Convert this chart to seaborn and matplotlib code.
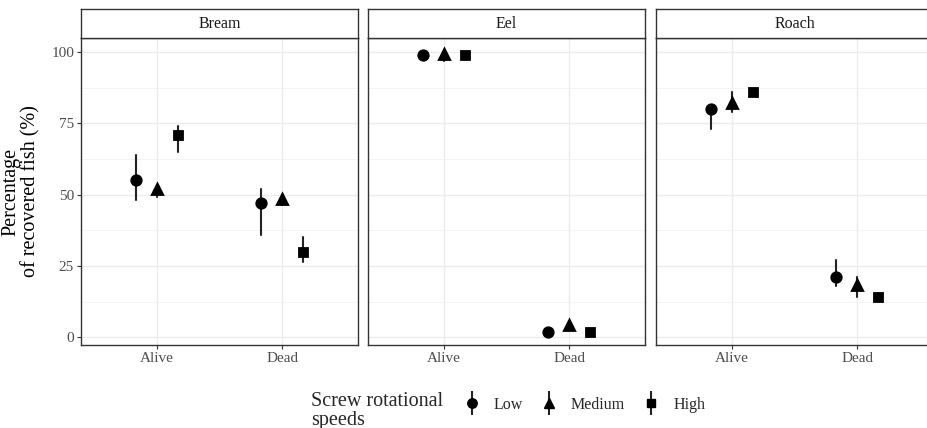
import matplotlib
matplotlib.use("Agg")
import matplotlib.pyplot as plt
import seaborn as sns
import pandas as pd
from matplotlib.lines import Line2D
from matplotlib.legend_handler import HandlerTuple

# data (value, lower, upper)
species = ["Bream", "Eel", "Roach"]
status = ["Alive", "Dead"]
speeds = ["Low", "Medium", "High"]

bream_value = [55, 52, 71, 47, 48.5, 30]
bream_lower = [48, 49, 65, 36, 46.5, 26.5]
bream_upper = [64, 53.5, 74, 52, 50, 35]

eel_value = [99, 99.3, 99, 2, 4.3, 2]
eel_lower = [99, 97, 99, 2, 4, 2]
eel_upper = [99, 100, 99, 2, 4.5, 2]

roach_value = [80, 82, 86, 21, 18.5, 14]
roach_lower = [73, 79, 85, 18, 14, 13]
roach_upper = [81, 86, 87, 27, 21, 15.5]

markers = ["o", "^", "s"]
marker_sizes = {"o": 6.8, "^": 7.6, "s": 6.2}

rows = []
for sp, vals, los, his in zip(species,
                              [bream_value, eel_value, roach_value],
                              [bream_lower, eel_lower, roach_lower],
                              [bream_upper, eel_upper, roach_upper]):
    i = 0
    for st in status:
        for spd in speeds:
            for v in (los[i], vals[i], his[i]):
                rows.append({"species": sp, "status": st, "speed": spd, "pct": v})
            i += 1
df = pd.DataFrame(rows)

sns.set_theme(style="white")
plt.rcParams["font.family"] = ["Liberation Serif", "DejaVu Serif"]

fig = plt.figure(figsize=(9.27, 4.28), dpi=100)
W, H = 927, 428
lefts = [81, 368, 656]
pw = 277
top, bottom = 38, 345
strip_h = 29

for k, sp in enumerate(species):
    ax = fig.add_axes([lefts[k] / W, (H - bottom) / H, pw / W, (bottom - top) / H])
    sub = df[df["species"] == sp]
    sns.pointplot(data=sub, x="status", y="pct", hue="speed", order=status,
                  hue_order=speeds, estimator="median",
                  errorbar=lambda x: (x.min(), x.max()),
                  markers=markers, linestyles="none", dodge=0.333,
                  palette=["black"] * 3, err_kws={"linewidth": 1.5, "color": "#222222"},
                  markersize=7, ax=ax, legend=False, zorder=3)
    for line in ax.lines:
        m = line.get_marker()
        if m in marker_sizes:
            line.set_markersize(marker_sizes[m])
            line.set_zorder(4)
    ax.set_xlim(-0.6, 1.6)
    ax.set_ylim(-2.7, 104.9)
    ax.set_yticks([0, 25, 50, 75, 100])
    ax.set_yticks([12.5, 37.5, 62.5, 87.5], minor=True)
    ax.grid(True, which="major", color="#ebebeb", linewidth=1.0, zorder=0)
    ax.grid(True, which="minor", axis="y", color="#f2f2f2", linewidth=0.6, zorder=0)
    ax.set_axisbelow(True)
    for s in ax.spines.values():
        s.set_color("#333333")
        s.set_linewidth(1.0)
    ax.tick_params(axis="both", which="major", length=3, width=0.8, color="#333333",
                   labelsize=11, labelcolor="#4d4d4d", pad=2, bottom=True, left=(k == 0))
    ax.tick_params(axis="both", which="minor", length=0)
    ax.set_xlabel("")
    if k == 0:
        ax.set_ylabel("Percentage\nof recovered fish (%)", fontsize=14.5, color="black",
                      labelpad=8, linespacing=1.0)
    else:
        ax.set_ylabel("")
        ax.set_yticklabels([])
    # strip
    sax = fig.add_axes([lefts[k] / W, (H - top) / H, pw / W, strip_h / H])
    sax.set_xticks([])
    sax.set_yticks([])
    sax.set_facecolor("white")
    for s in sax.spines.values():
        s.set_color("#333333")
        s.set_linewidth(1.0)
    sax.text(0.5, 0.5, sp, ha="center", va="center", fontsize=11.5, color="#1a1a1a",
             transform=sax.transAxes)

# legend
handles = []
for m in markers:
    bar = Line2D([], [], marker="|", markersize=17, markeredgewidth=1.5,
                 color="#222222", linestyle="none")
    pt = Line2D([], [], marker=m, markersize=marker_sizes[m], color="black",
                linestyle="none")
    handles.append((bar, pt))
fig.text(311 / W, 1 - 411 / H, "Screw rotational\nspeeds", fontsize=14.5, ha="left",
         va="center", linespacing=0.95)
fig.legend(handles, speeds, handler_map={tuple: HandlerTuple(ndivide=1)},
           loc="center left", bbox_to_anchor=(446 / W, 1 - 405 / H), ncol=3,
           frameon=False, fontsize=11.5, handlelength=1.4, handletextpad=0.7,
           columnspacing=0.9)

fig.savefig("out.png", dpi=100)
